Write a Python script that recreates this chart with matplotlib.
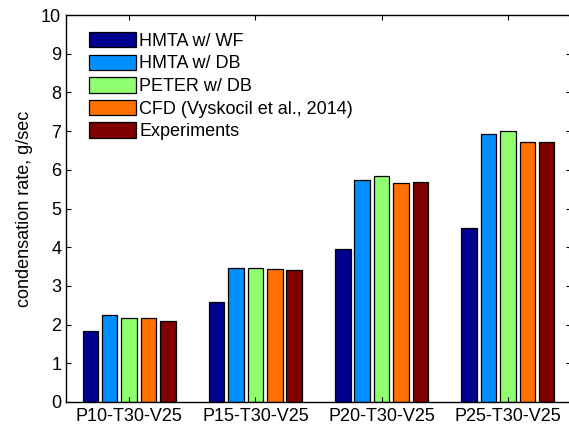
import matplotlib.pyplot as plt
import numpy as np

# condensation rates, g/sec, per test case
cases = ['P10-T30-V25', 'P15-T30-V25', 'P20-T30-V25', 'P25-T30-V25']
labels = ['HMTA w/ WF', 'HMTA w/ DB', 'PETER w/ DB',
          'CFD (Vyskocil et al., 2014)', 'Experiments']
hmta_wf = [1.83, 2.59, 3.96, 4.49]
hmta_db = [2.24, 3.47, 5.74, 6.92]
peter_db = [2.18, 3.47, 5.84, 7.00]
cfd = [2.18, 3.44, 5.66, 6.71]
experiments = [2.09, 3.41, 5.68, 6.71]
colors = ['#00008f', '#008fff', '#8fff70', '#ff7000', '#800000']

plt.rcParams.update({
    'font.family': ['Liberation Sans', 'DejaVu Sans'],
    'font.size': 13,
    'xtick.direction': 'in',
    'ytick.direction': 'in',
    'xtick.top': True,
    'ytick.right': True,
    'xtick.major.size': 3.6,
    'ytick.major.size': 3.6,
    'axes.linewidth': 1,
})

fig = plt.figure(figsize=(5.69, 4.26), dpi=100)
ax = fig.add_axes([66 / 569, 24 / 426, 505 / 569, 387 / 426])

series = [hmta_wf, hmta_db, peter_db, cfd, experiments]
x = np.arange(1, len(cases) + 1)
step = 0.769 / len(series)   # matlab-style grouped bars
for i, (vals, col, lab) in enumerate(zip(series, colors, labels)):
    off = (i - (len(series) - 1) / 2) * step
    ax.bar(x + off, vals, width=0.8 * step, color=col, edgecolor='black',
           linewidth=0.9, label=lab)

ax.set_xlim(0.5, 4.5)
ax.set_ylim(0, 10)
ax.set_yticks(range(0, 11))
ax.set_xticks(x)
ax.set_xticklabels(cases)
ax.tick_params(axis='x', pad=4)
ax.set_ylabel('condensation rate, g/sec', labelpad=6)
ax.spines['right'].set_visible(False)  # cropped off in the original

ax.legend(loc='upper left', bbox_to_anchor=(0.032, 0.975), borderaxespad=0,
          frameon=False, handlelength=2.6, handleheight=0.94,
          labelspacing=0.26, handletextpad=0.15, fontsize=13)

plt.savefig('out.png', dpi=100)
